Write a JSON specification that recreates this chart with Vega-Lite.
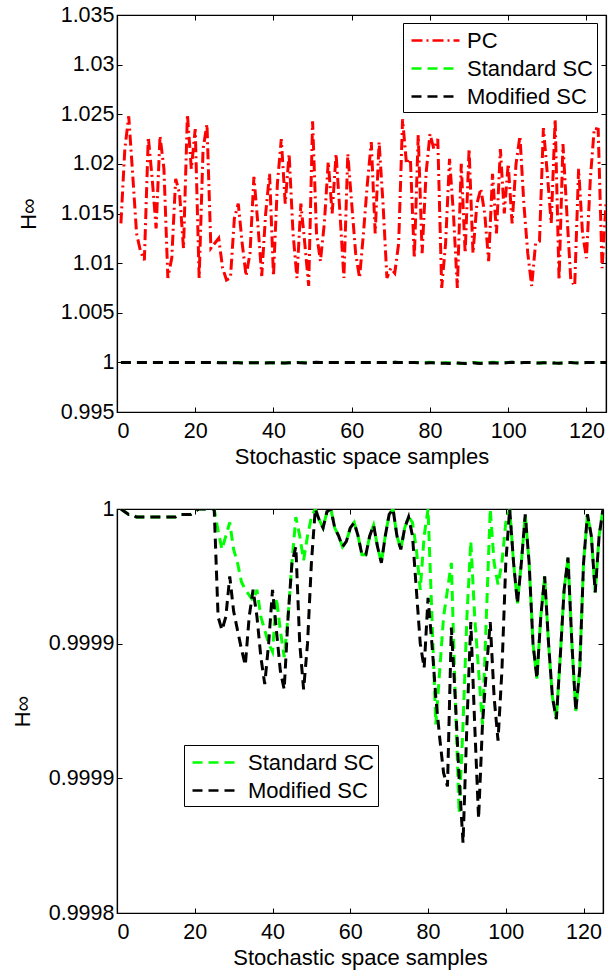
{
  "$schema": "https://vega.github.io/schema/vega-lite/v6.json",
  "background": "white",
  "padding": {"left": 10, "top": 3, "right": 0, "bottom": 0},
  "datasets": {
    "pc": [
      {"s":1,"v":1.0140},{"s":2,"v":1.0215},{"s":3,"v":1.0248},{"s":4,"v":1.0190},{"s":5,"v":1.0130},
      {"s":6,"v":1.0112},{"s":7,"v":1.0103},{"s":8,"v":1.0227},{"s":9,"v":1.0185},{"s":10,"v":1.0135},
      {"s":11,"v":1.0228},{"s":12,"v":1.0195},{"s":13,"v":1.0085},{"s":14,"v":1.0105},{"s":15,"v":1.0185},
      {"s":16,"v":1.0170},{"s":17,"v":1.0115},{"s":18,"v":1.0250},{"s":19,"v":1.0195},{"s":20,"v":1.0235},
      {"s":21,"v":1.0085},{"s":22,"v":1.0215},{"s":23,"v":1.0240},{"s":24,"v":1.0115},{"s":25,"v":1.0120},
      {"s":26,"v":1.0125},{"s":27,"v":1.0095},{"s":28,"v":1.0083},{"s":29,"v":1.0085},{"s":30,"v":1.0145},
      {"s":31,"v":1.0160},{"s":32,"v":1.0120},{"s":33,"v":1.0087},{"s":34,"v":1.0110},{"s":35,"v":1.0187},
      {"s":36,"v":1.0140},{"s":37,"v":1.0087},{"s":38,"v":1.0150},{"s":39,"v":1.0190},{"s":40,"v":1.0087},
      {"s":41,"v":1.0180},{"s":42,"v":1.0225},{"s":43,"v":1.0160},{"s":44,"v":1.0210},{"s":45,"v":1.0130},
      {"s":46,"v":1.0085},{"s":47,"v":1.0160},{"s":48,"v":1.0120},{"s":49,"v":1.0077},{"s":50,"v":1.0243},
      {"s":51,"v":1.0130},{"s":52,"v":1.0102},{"s":53,"v":1.0140},{"s":54,"v":1.0202},{"s":55,"v":1.0150},
      {"s":56,"v":1.0210},{"s":57,"v":1.0150},{"s":58,"v":1.0085},{"s":59,"v":1.0210},{"s":60,"v":1.0160},
      {"s":61,"v":1.0110},{"s":62,"v":1.0085},{"s":63,"v":1.0130},{"s":64,"v":1.0180},{"s":65,"v":1.0222},
      {"s":66,"v":1.0130},{"s":67,"v":1.0222},{"s":68,"v":1.0160},{"s":69,"v":1.0085},{"s":70,"v":1.0095},
      {"s":71,"v":1.0090},{"s":72,"v":1.0120},{"s":73,"v":1.0245},{"s":74,"v":1.0200},{"s":75,"v":1.0205},
      {"s":76,"v":1.0105},{"s":77,"v":1.0229},{"s":78,"v":1.0110},{"s":79,"v":1.0190},{"s":80,"v":1.0230},
      {"s":81,"v":1.0215},{"s":82,"v":1.0225},{"s":83,"v":1.0075},{"s":84,"v":1.0120},{"s":85,"v":1.0205},
      {"s":86,"v":1.0150},{"s":87,"v":1.0075},{"s":88,"v":1.0200},{"s":89,"v":1.0110},{"s":90,"v":1.0215},
      {"s":91,"v":1.0110},{"s":92,"v":1.0160},{"s":93,"v":1.0175},{"s":94,"v":1.0150},{"s":95,"v":1.0102},
      {"s":96,"v":1.0190},{"s":97,"v":1.0130},{"s":98,"v":1.0215},{"s":99,"v":1.0150},{"s":100,"v":1.0200},
      {"s":101,"v":1.0140},{"s":102,"v":1.0200},{"s":103,"v":1.0228},{"s":104,"v":1.0160},{"s":105,"v":1.0110},
      {"s":106,"v":1.0077},{"s":107,"v":1.0120},{"s":108,"v":1.0122},{"s":109,"v":1.0236},{"s":110,"v":1.0190},
      {"s":111,"v":1.0140},{"s":112,"v":1.0245},{"s":113,"v":1.0083},{"s":114,"v":1.0220},{"s":115,"v":1.0150},
      {"s":116,"v":1.0083},{"s":117,"v":1.0077},{"s":118,"v":1.0195},{"s":119,"v":1.0130},{"s":120,"v":1.0105},
      {"s":121,"v":1.0185},{"s":122,"v":1.0236},{"s":123,"v":1.0235},{"s":124,"v":1.0095},{"s":125,"v":1.0160}
    ],
    "std": [
      {"s":1,"v":1.0},{"s":2,"v":0.999999},{"s":3,"v":0.999998},{"s":4,"v":0.999998},{"s":5,"v":0.999997},
      {"s":6,"v":0.999997},{"s":7,"v":0.999997},{"s":8,"v":0.999997},{"s":9,"v":0.999997},{"s":10,"v":0.999997},
      {"s":11,"v":0.999997},{"s":12,"v":0.999997},{"s":13,"v":0.999997},{"s":14,"v":0.999997},{"s":15,"v":0.999997},
      {"s":16,"v":0.999998},{"s":17,"v":0.999998},{"s":18,"v":0.999998},{"s":19,"v":0.999998},{"s":20,"v":0.999999},
      {"s":21,"v":1.0},{"s":22,"v":1.0},{"s":23,"v":1.0},{"s":24,"v":1.0},{"s":25,"v":1.0},
      {"s":26,"v":0.999992},{"s":27,"v":0.999985},{"s":28,"v":0.99999},{"s":29,"v":0.999995},{"s":30,"v":0.999985},
      {"s":31,"v":0.99998},{"s":32,"v":0.999973},{"s":33,"v":0.99997},{"s":34,"v":0.999968},{"s":35,"v":0.999966},
      {"s":36,"v":0.99997},{"s":37,"v":0.99996},{"s":38,"v":0.999955},{"s":39,"v":0.99995},{"s":40,"v":0.999947},
      {"s":41,"v":0.999967},{"s":42,"v":0.999955},{"s":43,"v":0.999945},{"s":44,"v":0.99996},{"s":45,"v":0.99998},
      {"s":46,"v":0.999997},{"s":47,"v":0.99999},{"s":48,"v":0.999981},{"s":49,"v":0.99999},{"s":50,"v":0.999997},
      {"s":51,"v":1.0},{"s":52,"v":0.999996},{"s":53,"v":0.999993},{"s":54,"v":0.999999},{"s":55,"v":1.0},
      {"s":56,"v":0.999993},{"s":57,"v":0.99999},{"s":58,"v":0.999986},{"s":59,"v":0.999988},{"s":60,"v":0.999993},
      {"s":61,"v":0.999995},{"s":62,"v":0.99999},{"s":63,"v":0.999983},{"s":64,"v":0.999983},{"s":65,"v":0.99999},
      {"s":66,"v":0.999994},{"s":67,"v":0.999986},{"s":68,"v":0.99998},{"s":69,"v":0.99999},{"s":70,"v":0.999998},
      {"s":71,"v":1.0},{"s":72,"v":0.99999},{"s":73,"v":0.999985},{"s":74,"v":0.999993},{"s":75,"v":0.999997},
      {"s":76,"v":0.999995},{"s":77,"v":0.999985},{"s":78,"v":0.99997},{"s":79,"v":0.99999},{"s":80,"v":1.0},
      {"s":81,"v":0.99996},{"s":82,"v":0.99992},{"s":83,"v":0.99994},{"s":84,"v":0.99996},{"s":85,"v":0.99997},
      {"s":86,"v":0.99998},{"s":87,"v":0.99993},{"s":88,"v":0.999887},{"s":89,"v":0.99992},{"s":90,"v":0.99996},
      {"s":91,"v":0.999988},{"s":92,"v":0.99996},{"s":93,"v":0.99994},{"s":94,"v":0.99992},{"s":95,"v":0.99996},
      {"s":96,"v":1.0},{"s":97,"v":0.99998},{"s":98,"v":0.999972},{"s":99,"v":0.99998},{"s":100,"v":0.999995},
      {"s":101,"v":1.0},{"s":102,"v":0.99998},{"s":103,"v":0.999965},{"s":104,"v":0.99998},{"s":105,"v":0.999998},
      {"s":106,"v":0.99998},{"s":107,"v":0.99995},{"s":108,"v":0.999937},{"s":109,"v":0.99996},{"s":110,"v":0.999975},
      {"s":111,"v":0.99995},{"s":112,"v":0.99993},{"s":113,"v":0.999922},{"s":114,"v":0.999945},{"s":115,"v":0.99997},
      {"s":116,"v":0.999982},{"s":117,"v":0.99995},{"s":118,"v":0.999925},{"s":119,"v":0.99994},{"s":120,"v":0.99998},
      {"s":121,"v":0.999998},{"s":122,"v":0.99999},{"s":123,"v":0.999969},{"s":124,"v":0.99999},{"s":125,"v":1.0}
    ],
    "mod": [
      {"s":1,"v":1.0},{"s":2,"v":0.999999},{"s":3,"v":0.999998},{"s":4,"v":0.999998},{"s":5,"v":0.999997},
      {"s":6,"v":0.999997},{"s":7,"v":0.999997},{"s":8,"v":0.999997},{"s":9,"v":0.999997},{"s":10,"v":0.999997},
      {"s":11,"v":0.999997},{"s":12,"v":0.999997},{"s":13,"v":0.999997},{"s":14,"v":0.999997},{"s":15,"v":0.999997},
      {"s":16,"v":0.999998},{"s":17,"v":0.999998},{"s":18,"v":0.999998},{"s":19,"v":0.999998},{"s":20,"v":0.999999},
      {"s":21,"v":1.0},{"s":22,"v":1.0},{"s":23,"v":1.0},{"s":24,"v":1.0},{"s":25,"v":1.0},
      {"s":26,"v":0.99996},{"s":27,"v":0.999955},{"s":28,"v":0.99996},{"s":29,"v":0.999975},{"s":30,"v":0.999962},
      {"s":31,"v":0.999955},{"s":32,"v":0.999948},{"s":33,"v":0.999942},{"s":34,"v":0.99996},{"s":35,"v":0.99997},
      {"s":36,"v":0.99996},{"s":37,"v":0.999945},{"s":38,"v":0.999935},{"s":39,"v":0.99995},{"s":40,"v":0.99997},
      {"s":41,"v":0.999955},{"s":42,"v":0.99994},{"s":43,"v":0.999933},{"s":44,"v":0.99996},{"s":45,"v":0.99998},
      {"s":46,"v":0.999986},{"s":47,"v":0.99995},{"s":48,"v":0.999933},{"s":49,"v":0.99995},{"s":50,"v":0.99998},
      {"s":51,"v":1.0},{"s":52,"v":0.999996},{"s":53,"v":0.999993},{"s":54,"v":0.999999},{"s":55,"v":1.0},
      {"s":56,"v":0.999993},{"s":57,"v":0.99999},{"s":58,"v":0.999986},{"s":59,"v":0.999988},{"s":60,"v":0.999993},
      {"s":61,"v":0.999995},{"s":62,"v":0.99999},{"s":63,"v":0.999983},{"s":64,"v":0.999983},{"s":65,"v":0.99999},
      {"s":66,"v":0.999994},{"s":67,"v":0.999986},{"s":68,"v":0.99998},{"s":69,"v":0.99999},{"s":70,"v":0.999998},
      {"s":71,"v":1.0},{"s":72,"v":0.99999},{"s":73,"v":0.999985},{"s":74,"v":0.999993},{"s":75,"v":0.999997},
      {"s":76,"v":0.99999},{"s":77,"v":0.99997},{"s":78,"v":0.99995},{"s":79,"v":0.999941},{"s":80,"v":0.999967},
      {"s":81,"v":0.99995},{"s":82,"v":0.99993},{"s":83,"v":0.999915},{"s":84,"v":0.999902},{"s":85,"v":0.999897},
      {"s":86,"v":0.999956},{"s":87,"v":0.99993},{"s":88,"v":0.9999},{"s":89,"v":0.999876},{"s":90,"v":0.99992},
      {"s":91,"v":0.999958},{"s":92,"v":0.99992},{"s":93,"v":0.999885},{"s":94,"v":0.99992},{"s":95,"v":0.99994},
      {"s":96,"v":0.999958},{"s":97,"v":0.99993},{"s":98,"v":0.999914},{"s":99,"v":0.99994},{"s":100,"v":0.99998},
      {"s":101,"v":1.0},{"s":102,"v":0.99998},{"s":103,"v":0.999965},{"s":104,"v":0.99998},{"s":105,"v":0.999998},
      {"s":106,"v":0.99998},{"s":107,"v":0.99995},{"s":108,"v":0.999937},{"s":109,"v":0.99996},{"s":110,"v":0.999975},
      {"s":111,"v":0.99995},{"s":112,"v":0.99993},{"s":113,"v":0.999922},{"s":114,"v":0.999945},{"s":115,"v":0.99997},
      {"s":116,"v":0.999982},{"s":117,"v":0.99995},{"s":118,"v":0.999925},{"s":119,"v":0.99994},{"s":120,"v":0.99998},
      {"s":121,"v":0.999998},{"s":122,"v":0.99999},{"s":123,"v":0.999969},{"s":124,"v":0.99999},{"s":125,"v":1.0}
    ]
  },
  "vconcat": [
    {
      "width": 489,
      "height": 397,
      "resolve": {"axis": {"x": "independent", "y": "independent"}},
      "layer": [
        {
          "data": {"name": "pc"},
          "mark": {"type": "line", "strokeWidth": 3, "clip": true},
          "encoding": {
            "x": {"field": "s", "type": "quantitative", "scale": {"domain": [0, 125], "nice": false, "zero": false},
                  "axis": {"values": [0, 20, 40, 60, 80, 100, 120], "title": "Stochastic space samples"}},
            "y": {"field": "v", "type": "quantitative", "scale": {"domain": [0.995, 1.035], "nice": false, "zero": false},
                  "axis": {"values": [0.995, 1, 1.005, 1.01, 1.015, 1.02, 1.025, 1.03, 1.035], "format": ".3~f", "title": "H∞", "titlePadding": 20}},
            "color": {"datum": "PC", "type": "nominal",
                      "scale": {"domain": ["PC", "Standard SC", "Modified SC"], "range": ["#ff0000", "#00ff00", "#000000"]},
                      "legend": {"orient": "none", "legendX": 286, "legendY": 8}},
            "strokeDash": {"datum": "PC", "type": "nominal",
                           "scale": {"domain": ["PC", "Standard SC", "Modified SC"], "range": [[11, 4, 2, 4], [10, 6], [10, 6]]},
                           "legend": {"orient": "none", "legendX": 286, "legendY": 8}}
          }
        },
        {
          "data": {"name": "std"},
          "mark": {"type": "line", "strokeWidth": 3, "clip": true},
          "encoding": {
            "x": {"field": "s", "type": "quantitative", "axis": {"orient": "top", "labels": false, "title": null, "values": [0, 20, 40, 60, 80, 100, 120]}},
            "y": {"field": "v", "type": "quantitative", "axis": {"orient": "right", "labels": false, "title": null, "values": [0.995, 1, 1.005, 1.01, 1.015, 1.02, 1.025, 1.03, 1.035]}},
            "color": {"datum": "Standard SC", "type": "nominal"},
            "strokeDash": {"datum": "Standard SC", "type": "nominal"}
          }
        },
        {
          "data": {"name": "mod"},
          "mark": {"type": "line", "strokeWidth": 3, "clip": true},
          "encoding": {
            "x": {"field": "s", "type": "quantitative", "axis": null},
            "y": {"field": "v", "type": "quantitative", "axis": null},
            "color": {"datum": "Modified SC", "type": "nominal"},
            "strokeDash": {"datum": "Modified SC", "type": "nominal"}
          }
        }
      ]
    },
    {
      "width": 486,
      "height": 404,
      "resolve": {"axis": {"x": "independent", "y": "independent"}},
      "layer": [
        {
          "data": {"name": "std"},
          "mark": {"type": "line", "strokeWidth": 3, "clip": true},
          "encoding": {
            "x": {"field": "s", "type": "quantitative", "scale": {"domain": [0, 125], "nice": false, "zero": false},
                  "axis": {"values": [0, 20, 40, 60, 80, 100, 120], "title": "Stochastic space samples"}},
            "y": {"field": "v", "type": "quantitative", "scale": {"domain": [0.99985, 1], "nice": false, "zero": false},
                  "axis": {"values": [0.99985, 0.9999, 0.99995, 1], "labelExpr": "datum.value > 0.999999 ? '1' : (datum.value < 0.99987 ? '0.9998' : '0.9999')", "title": "H∞", "titlePadding": 14}},
            "color": {"datum": "Standard SC", "type": "nominal",
                      "scale": {"domain": ["Standard SC", "Modified SC"], "range": ["#00ff00", "#000000"]},
                      "legend": {"orient": "none", "legendX": 67, "legendY": 236}},
            "strokeDash": {"datum": "Standard SC", "type": "nominal",
                           "scale": {"domain": ["Standard SC", "Modified SC"], "range": [[10, 6], [10, 6]]},
                           "legend": {"orient": "none", "legendX": 67, "legendY": 236}}
          }
        },
        {
          "data": {"name": "mod"},
          "mark": {"type": "line", "strokeWidth": 3, "clip": true},
          "encoding": {
            "x": {"field": "s", "type": "quantitative", "axis": {"orient": "top", "labels": false, "title": null, "values": [0, 20, 40, 60, 80, 100, 120]}},
            "y": {"field": "v", "type": "quantitative", "axis": {"orient": "right", "labels": false, "title": null, "values": [0.99985, 0.9999, 0.99995, 1]}},
            "color": {"datum": "Modified SC", "type": "nominal"},
            "strokeDash": {"datum": "Modified SC", "type": "nominal"}
          }
        }
      ]
    }
  ],
  "spacing": 28,
  "align": "none",
  "resolve": {
    "scale": {"color": "independent", "strokeDash": "independent"},
    "legend": {"color": "independent", "strokeDash": "independent"}
  },
  "config": {
    "view": {"stroke": "black", "strokeWidth": 1.2},
    "axis": {
      "grid": false,
      "labelFont": "Liberation Sans",
      "titleFont": "Liberation Sans",
      "labelFontSize": 21.5,
      "titleFontSize": 22,
      "titleFontWeight": "normal",
      "labelColor": "black",
      "titleColor": "black",
      "domainColor": "black",
      "domainWidth": 1.2,
      "tickColor": "black",
      "tickWidth": 1,
      "tickSize": -5,
      "labelPadding": 8,
      "titlePadding": 5
    },
    "axisX": {"labelPadding": 13},
    "legend": {
      "title": null,
      "labelFont": "Liberation Sans",
      "labelFontSize": 22,
      "labelColor": "black",
      "symbolType": "M-2,0H2",
      "symbolSize": 576,
      "symbolStrokeWidth": 2.5,
      "symbolOffset": 15,
      "strokeColor": "black",
      "fillColor": "white",
      "padding": 4,
      "rowPadding": 3,
      "labelOffset": 18
    }
  }
}
